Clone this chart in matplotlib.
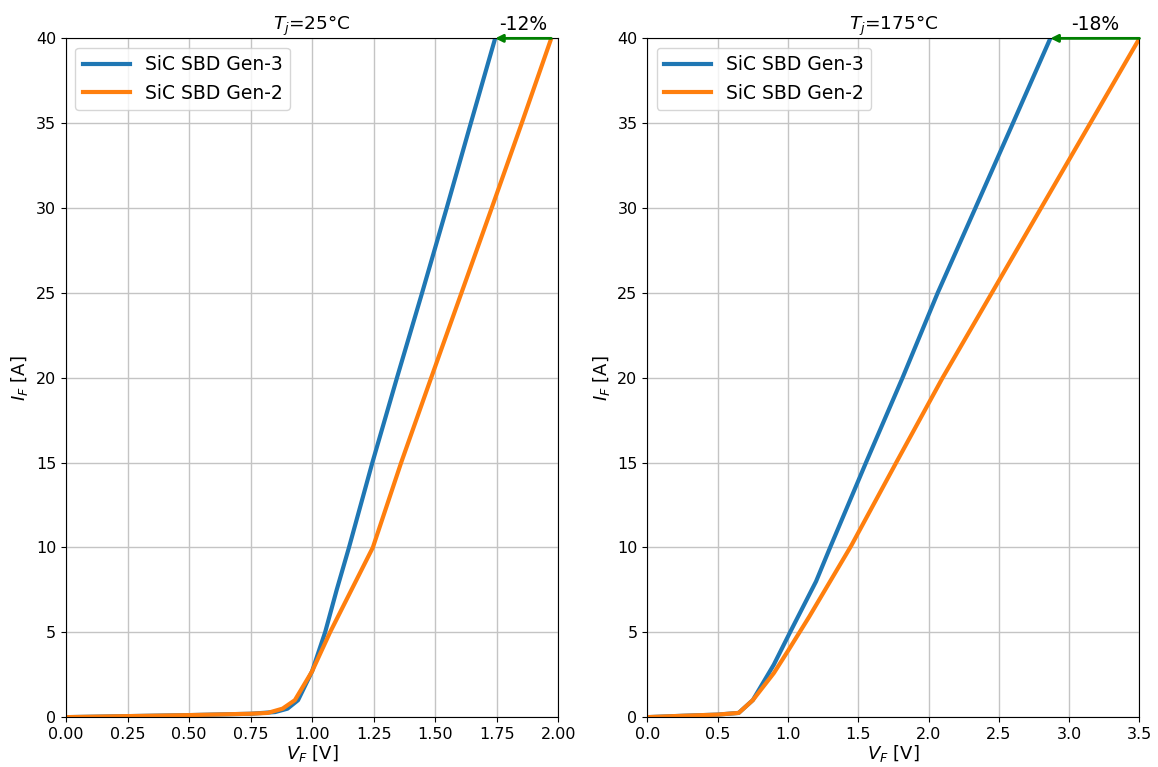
import matplotlib.pyplot as plt

# Tj = 25 C
vf_g3_25 = [0.0, 0.25, 0.5, 0.75, 0.85, 0.9, 0.943, 1.0, 1.053, 1.1, 1.15, 1.245, 1.345, 1.447, 1.547, 1.645, 1.744]
if_g3_25 = [0.0, 0.06, 0.12, 0.2, 0.3, 0.5, 1.0, 2.7, 5.0, 7.5, 10.0, 15.0, 20.0, 25.0, 30.0, 35.0, 40.0]
vf_g2_25 = [0.0, 0.25, 0.5, 0.75, 0.82, 0.88, 0.93, 1.0, 1.073, 1.16, 1.247, 1.362, 1.484, 1.607, 1.73, 1.852, 1.972]
if_g2_25 = [0.0, 0.06, 0.12, 0.2, 0.25, 0.5, 1.0, 2.7, 5.0, 7.5, 10.0, 15.0, 20.0, 25.0, 30.0, 35.0, 40.0]

# Tj = 175 C
vf_g3_175 = [0.0, 0.25, 0.5, 0.65, 0.75, 0.9, 1.015, 1.2, 1.3, 1.555, 1.815, 2.065, 2.333, 2.6, 2.866]
if_g3_175 = [0.0, 0.08, 0.15, 0.25, 1.0, 3.1, 5.0, 8.0, 10.0, 15.0, 20.0, 25.0, 30.0, 35.0, 40.0]
vf_g2_175 = [0.0, 0.25, 0.5, 0.65, 0.75, 0.9, 1.0, 1.15, 1.3, 1.45, 1.77, 2.1, 2.45, 2.8, 3.15, 3.5]
if_g2_175 = [0.0, 0.08, 0.15, 0.25, 1.0, 2.6, 3.9, 5.9, 8.0, 10.1, 15.0, 20.0, 25.0, 30.0, 35.0, 40.0]

labels = ['SiC SBD Gen-3', 'SiC SBD Gen-2']
titles = ['$T_j$=25°C', '$T_j$=175°C']
reductions = ['-12%', '-18%']

plt.rcParams['font.size'] = 11.5

fig = plt.figure(figsize=(11.58, 7.67), dpi=100)
ax1 = fig.add_axes([0.057, 0.065, 0.425, 0.885])
ax2 = fig.add_axes([0.559, 0.065, 0.425, 0.885])

panels = [
    (ax1, vf_g3_25, if_g3_25, vf_g2_25, if_g2_25, 2.0, [0, 0.25, 0.5, 0.75, 1.0, 1.25, 1.5, 1.75, 2.0], '%.2f'),
    (ax2, vf_g3_175, if_g3_175, vf_g2_175, if_g2_175, 3.5, [0, 0.5, 1.0, 1.5, 2.0, 2.5, 3.0, 3.5], '%.1f'),
]

for i, (ax, x3, y3, x2, y2, xmax, xt, fmt) in enumerate(panels):
    ax.plot(x3, y3, color='#1f77b4', lw=3, label=labels[0])
    ax.plot(x2, y2, color='#ff7f0e', lw=3, label=labels[1])
    ax.set_xlim(0, xmax)
    ax.set_ylim(0, 40)
    ax.set_xticks(xt)
    ax.set_xticklabels([fmt % v for v in xt])
    ax.grid(True, color='#c4c4c4', lw=1)
    ax.set_xlabel('$V_F$ [V]', fontsize=13, labelpad=1)
    ax.set_ylabel('$I_F$ [A]', fontsize=13)
    ax.set_title(titles[i], fontsize=13.3, pad=4)
    ax.legend(loc='upper left', fontsize=13.5, handlelength=2.5)
    # arrow showing reduction of VF at 40 A
    x_end = x3[-1]
    x_start = x2[-1]
    ax.annotate('', xy=(x_end, 40), xytext=(x_start, 40),
                arrowprops=dict(arrowstyle='-|>', color='green', lw=2,
                                shrinkA=0, shrinkB=0, mutation_scale=11),
                annotation_clip=False)
    ax.text((x_end + x_start) / 2, 40.25, reductions[i],
            ha='center', va='bottom', fontsize=13.5)

fig.savefig('out.png', dpi=100)
